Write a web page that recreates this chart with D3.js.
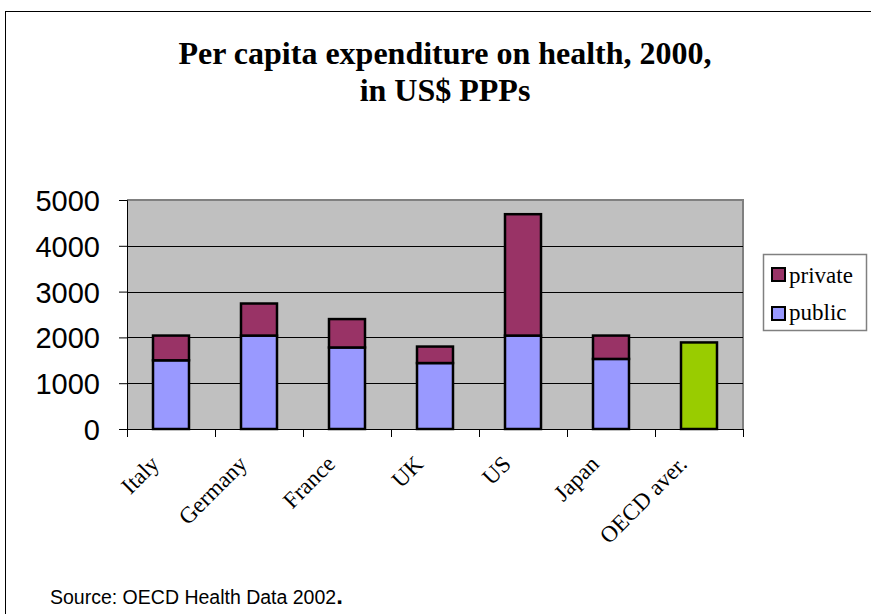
<!DOCTYPE html>
<html><head><meta charset="utf-8">
<script src="https://cdn.jsdelivr.net/npm/d3@7"></script>
<style>body{margin:0;background:#fff}svg{display:block}</style>
</head><body>
<svg id="c" width="871" height="614"></svg>
<script>
const categories = ["Italy","Germany","France","UK","US","Japan","OECD aver."];
const publicValues = [1500, 2040, 1780, 1440, 2040, 1530, 0];
const privateValues = [540, 700, 620, 360, 2650, 510, 0];
const oecdValues = [0, 0, 0, 0, 0, 0, 1890];
const yTicks = [0, 1000, 2000, 3000, 4000, 5000];
const legendLabels = ["private", "public"];

const svg = d3.select("#c");
const L = 127, R = 743, T = 200, B = 429;

// outer frame
svg.append("rect").attr("x",5.5).attr("y",11.5).attr("width",900).attr("height",700)
  .attr("fill","#fff").attr("stroke","#000").attr("stroke-width",1);

// title
const title = svg.append("text").attr("text-anchor","middle")
  .attr("font-family","'Liberation Serif','Times New Roman',serif")
  .attr("font-weight","bold").attr("font-size",32).attr("fill","#000");
title.append("tspan").attr("x",445).attr("y",64).text("Per capita expenditure on health, 2000,");
title.append("tspan").attr("x",445).attr("y",101).text("in US$ PPPs");

const x = d3.scaleBand().domain(categories).range([L,R]).paddingInner(0.591).paddingOuter(0.2955);
const y = d3.scaleLinear().domain([0,5000]).range([B,T]);

// plot area
svg.append("rect").attr("x",L).attr("y",T).attr("width",R-L).attr("height",B-T).attr("fill","#C0C0C0");
svg.append("path").attr("d",`M${L},${T}H${R}V${B}`).attr("fill","none").attr("stroke","#808080").attr("stroke-width",2);

// gridlines
svg.append("g").selectAll("line").data(yTicks.filter(d=>d>0 && d<5000)).join("line")
  .attr("x1",L).attr("x2",R).attr("y1",d=>Math.round(y(d))+0.5).attr("y2",d=>Math.round(y(d))+0.5)
  .attr("stroke","#000").attr("stroke-width",1);

// bars
const bars = svg.append("g").attr("stroke","#000").attr("stroke-width",2.5);
categories.forEach((c,i)=>{
  if (publicValues[i] > 0) {
    bars.append("rect").attr("x",x(c)).attr("width",x.bandwidth())
      .attr("y",y(publicValues[i])).attr("height",y(0)-y(publicValues[i])).attr("fill","#9999FF");
  }
  if (privateValues[i] > 0) {
    const top = publicValues[i] + privateValues[i];
    bars.append("rect").attr("x",x(c)).attr("width",x.bandwidth())
      .attr("y",y(top)).attr("height",y(publicValues[i])-y(top)).attr("fill","#993366");
  }
  if (oecdValues[i] > 0) {
    bars.append("rect").attr("x",x(c)).attr("width",x.bandwidth())
      .attr("y",y(oecdValues[i])).attr("height",y(0)-y(oecdValues[i])).attr("fill","#99CC00");
  }
});

// y axis
const yAxis = svg.append("g").attr("transform",`translate(${L},0)`)
  .call(d3.axisLeft(y).tickValues(yTicks).tickSize(8).tickPadding(19).tickFormat(d3.format("d")));
yAxis.select(".domain").attr("stroke","#000");
yAxis.selectAll("line").attr("stroke","#000");
yAxis.selectAll("text").attr("font-family","'Liberation Sans',Arial,sans-serif").attr("font-size",29).attr("fill","#000").attr("dy","0.36em");

// x axis
const xb = svg.append("g");
xb.append("line").attr("x1",L).attr("x2",R).attr("y1",B+0.5).attr("y2",B+0.5).attr("stroke","#000");
const bounds = d3.range(categories.length+1).map(i => L + i*x.step());
xb.selectAll("line.t").data(bounds).join("line").attr("class","t")
  .attr("x1",d=>Math.round(d)+0.5).attr("x2",d=>Math.round(d)+0.5).attr("y1",B).attr("y2",B+8).attr("stroke","#000");
xb.selectAll("text").data(categories).join("text")
  .attr("transform",d=>`translate(${x(d)+x.bandwidth()/2-22},${B+25}) rotate(-45)`)
  .attr("text-anchor","end").attr("dy","0.7em")
  .attr("font-family","'Liberation Serif','Times New Roman',serif").attr("font-size",23).attr("fill","#000")
  .text(d=>d);

// legend
const lg = svg.append("g");
lg.append("rect").attr("x",763.5).attr("y",254.5).attr("width",103).attr("height",76)
  .attr("fill","#fff").attr("stroke","#808080").attr("stroke-width",1.5);
const legendColors = ["#993366","#9999FF"];
legendLabels.forEach((l,i)=>{
  lg.append("rect").attr("x",772).attr("y",268+i*39).attr("width",13).attr("height",13)
    .attr("fill",legendColors[i]).attr("stroke","#000").attr("stroke-width",2);
  lg.append("text").attr("x",789).attr("y",283+i*37).attr("font-family","'Liberation Serif','Times New Roman',serif")
    .attr("font-size",23).attr("fill","#000").text(l);
});

// source
const src = svg.append("text").attr("x",50).attr("y",604).attr("font-family","'Liberation Sans',Arial,sans-serif")
  .attr("font-size",19.5).attr("fill","#000");
src.append("tspan").text("Source: OECD Health Data 2002");
src.append("tspan").attr("font-weight","bold").attr("font-size",24).text(".");
</script>
</body></html>
